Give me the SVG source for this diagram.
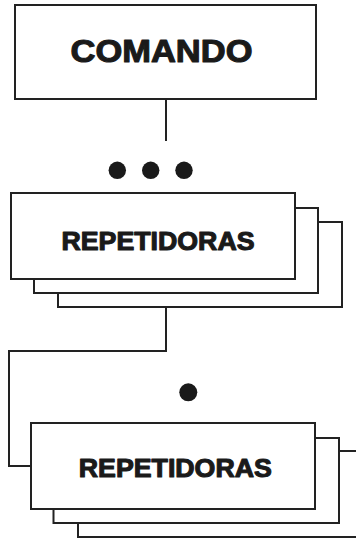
<svg xmlns="http://www.w3.org/2000/svg" width="356" height="540" viewBox="0 0 356 540">
<style>
.box{fill:#fff;stroke:#222;stroke-width:2}
.lbl{font-family:"Liberation Sans",Arial,Helvetica,sans-serif;font-weight:bold;fill:#1a1a1a;stroke:#1a1a1a;stroke-width:1.1;stroke-linejoin:round}
.conn{fill:none;stroke:#222;stroke-width:2}
.dot{fill:#1a1a1a}
</style>
<rect width="356" height="540" fill="#fff"/>
<g id="connectors">
<line class="conn" x1="166" y1="99" x2="166" y2="141"/>
<path class="conn" d="M166 307 V351 H9 V466 H31"/>
</g>
<g id="comando">
<rect class="box" x="15" y="5" width="301" height="94"/>
<text class="lbl" x="70.5" y="61.7" font-size="31.5" textLength="182" lengthAdjust="spacingAndGlyphs">COMANDO</text>
</g>
<g id="dots-top">
<circle class="dot" cx="117.3" cy="170.3" r="8.7"/>
<circle class="dot" cx="150.7" cy="170.3" r="8.7"/>
<circle class="dot" cx="184" cy="170.3" r="8.7"/>
</g>
<g id="repetidoras-1">
<rect class="box" x="58" y="222" width="284" height="85"/>
<rect class="box" x="34" y="208" width="284" height="85"/>
<rect class="box" x="11" y="193" width="284" height="86"/>
<text class="lbl" x="61.5" y="249.6" font-size="25.6" textLength="193" lengthAdjust="spacingAndGlyphs">REPETIDORAS</text>
</g>
<g id="dot-bottom">
<circle class="dot" cx="188.3" cy="392.3" r="9"/>
</g>
<g id="repetidoras-2">
<rect class="box" x="78" y="451" width="284" height="86"/>
<rect class="box" x="53.5" y="438" width="285.5" height="85"/>
<rect class="box" x="31" y="423" width="284" height="86"/>
<text class="lbl" x="78.8" y="477.3" font-size="25.9" textLength="193" lengthAdjust="spacingAndGlyphs">REPETIDORAS</text>
</g>
</svg>
